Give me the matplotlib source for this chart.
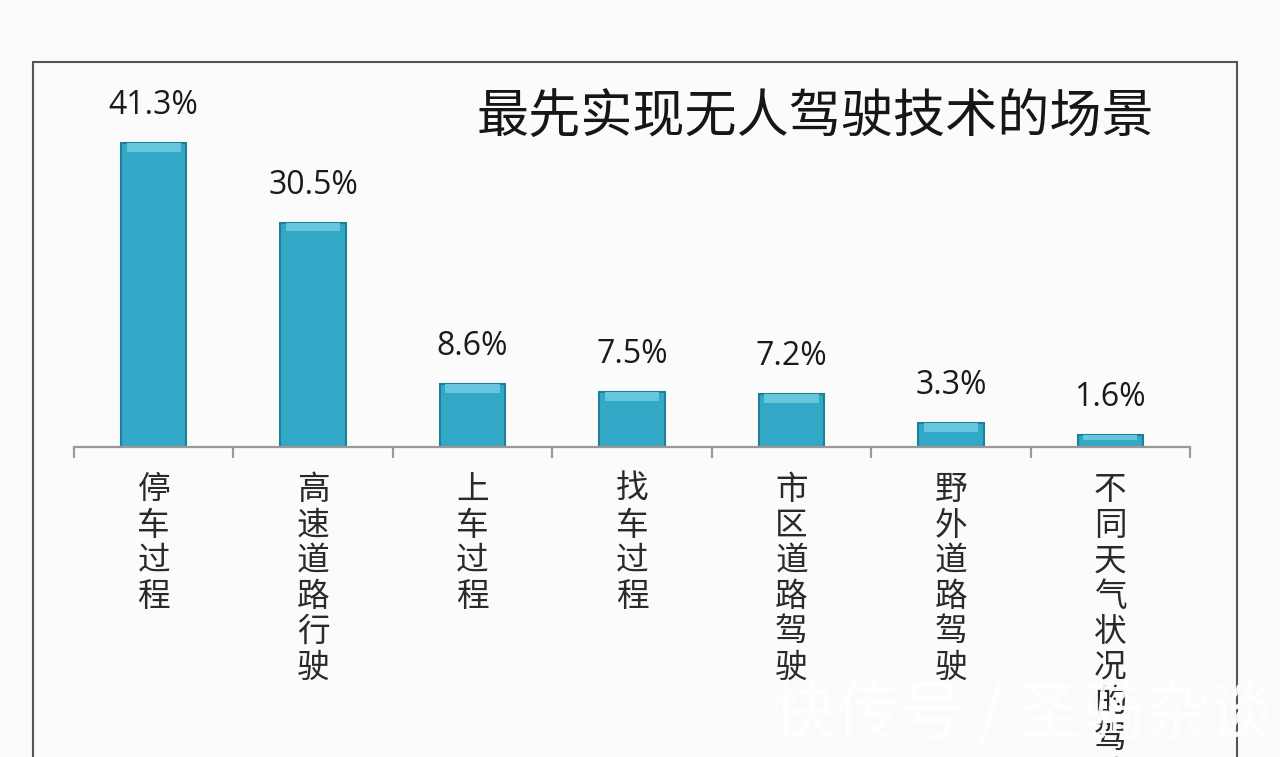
import matplotlib.pyplot as plt
from matplotlib.patches import Rectangle

plt.rcParams['font.family'] = ['Noto Sans CJK SC', 'DejaVu Sans']

# data
categories = ["停车过程", "高速道路行驶", "上车过程", "找车过程",
              "市区道路驾驶", "野外道路驾驶", "不同天气状况的驾驶"]
shares = [41.3, 30.5, 8.6, 7.5, 7.2, 3.3, 1.6]
value_labels = ["41.3%", "30.5%", "8.6%", "7.5%", "7.2%", "3.3%", "1.6%"]
title = "最先实现无人驾驶技术的场景"
watermark = "快传号 / 圣骑杂谈"

W, H = 1280, 757
fig = plt.figure(figsize=(W / 100, H / 100), dpi=100, facecolor="#fbfbfb")

# outer chart frame (runs past the bottom of the picture)
fig.patches.append(Rectangle((33 / W, -0.05), (1237 - 33) / W, 0.05 + (H - 62) / H,
                             transform=fig.transFigure, fill=False,
                             edgecolor="#555555", linewidth=1.5))

ax = fig.add_axes([74 / W, (H - 447) / H, 1116 / W, 331 / H])
ax.set_facecolor("none")
x = list(range(len(categories)))

# main bar body plus darker edge and lighter bevel on top
ax.bar(x, shares, width=0.41, color="#33a8c6", edgecolor="#1f7f99", linewidth=1.5, zorder=2)
bevel = [min(1.2, s * 0.4) for s in shares]
ax.bar(x, bevel, bottom=[s - b for s, b in zip(shares, bevel)], width=0.34,
       color="#66c6dc", linewidth=0, zorder=3)

ax.set_xlim(-0.5, len(categories) - 0.5)
ax.set_ylim(0, 45)
for side in ["top", "right", "left"]:
    ax.spines[side].set_visible(False)
ax.spines["bottom"].set_color("#999999")
ax.spines["bottom"].set_linewidth(1.6)
ax.set_yticks([])
ax.set_xticks([])
ax.set_xticks([i - 0.5 for i in range(len(categories) + 1)], minor=True)
ax.tick_params(axis="x", which="minor", length=8, width=1.6, color="#999999",
               direction="out", labelbottom=False)

for i, (s, lab) in enumerate(zip(shares, value_labels)):
    ax.annotate(lab, xy=(i, s), xytext=(0, 27), textcoords="offset points",
                ha="center", va="center", fontsize=23, color="#1a1a1a",
                family="Open Sans", fontweight="medium")

# category names written top to bottom, one character per line
for i, name in enumerate(categories):
    for k, ch in enumerate(name):
        ax.annotate(ch, xy=(i, 0), xytext=(0, -31 - k * 25.6),
                    textcoords="offset points", ha="center", va="center",
                    fontsize=23.5, color="#2a2a2a", annotation_clip=False)

fig.text(815 / W, 1 - 118 / H, title, ha="center", va="center",
         fontsize=37.5, color="#161616")

fig.text(1022 / W, 1 - 716 / H, watermark, ha="center", va="center",
         fontsize=46, color="white", alpha=0.92, zorder=10)

fig.savefig("out.png", dpi=100, facecolor=fig.get_facecolor())
